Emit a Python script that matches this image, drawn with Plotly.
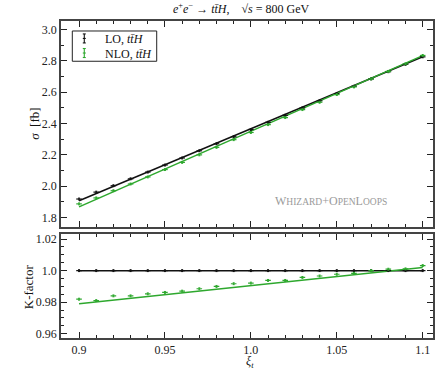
import plotly.graph_objects as go

# scan points in xi_t
xi = [0.90, 0.91, 0.92, 0.93, 0.94, 0.95, 0.96, 0.97, 0.98, 0.99, 1.00,
      1.01, 1.02, 1.03, 1.04, 1.05, 1.06, 1.07, 1.08, 1.09, 1.10]

sigma_lo = [1.918, 1.962, 2.003, 2.047, 2.090, 2.135, 2.180, 2.226, 2.271, 2.316, 2.362,
            2.408, 2.453, 2.500, 2.545, 2.591, 2.638, 2.685, 2.731, 2.778, 2.826]
sigma_nlo = [1.887, 1.925, 1.971, 2.014, 2.059, 2.106, 2.152, 2.200, 2.248, 2.297, 2.343,
             2.393, 2.438, 2.489, 2.536, 2.585, 2.634, 2.685, 2.733, 2.781, 2.835]
k_lo = [1.0] * 21
k_nlo = [0.9819, 0.9810, 0.9840, 0.9840, 0.9853, 0.9862, 0.9870, 0.9885, 0.9900, 0.9917, 0.9921,
         0.9938, 0.9938, 0.9957, 0.9966, 0.9977, 0.9983, 1.0000, 1.0009, 1.0011, 1.0032]
err_sigma = 0.006
err_k = 0.0006

# linear fits (end points)
fit_x = [0.9, 1.1]
fit_lo = [1.907, 2.827]
fit_nlo = [1.868, 2.834]
fit_k_lo = [1.0, 1.0]
fit_k_nlo = [0.979, 1.0020]

xtick_vals = [0.9, 0.95, 1.0, 1.05, 1.1]
xtick_text = ["0.9", "0.95", "1.0", "1.05", "1.1"]
ytick_top = [1.8, 2.0, 2.2, 2.4, 2.6, 2.8, 3.0]
ytick_bot = [0.96, 0.98, 1.0, 1.02]
ytick_bot_text = ["0.96", "0.98", "1.0", "1.02"]

legend_names = ["LO, <i>tt̄H</i>", "NLO, <i>tt̄H</i>"]

BLACK = "#111111"
GREEN = "#2ea82e"
FONT = "Liberation Serif"

fig = go.Figure()


def points(x, y, err, color, xa, ya):
    return go.Scatter(
        x=x, y=y, mode="markers", xaxis=xa, yaxis=ya, showlegend=False,
        marker=dict(symbol="line-ew", size=4, color=color, line=dict(color=color, width=1.2)),
        error_y=dict(type="constant", value=err, color=color, thickness=1, width=1),
        hoverinfo="skip",
    )


def fitline(x, y, color, xa, ya):
    return go.Scatter(x=x, y=y, mode="lines", xaxis=xa, yaxis=ya, showlegend=False,
                      line=dict(color=color, width=1.5), hoverinfo="skip")


fig.add_trace(fitline(fit_x, fit_lo, BLACK, "x2", "y2"))
fig.add_trace(fitline(fit_x, fit_nlo, GREEN, "x2", "y2"))
fig.add_trace(points(xi, sigma_lo, err_sigma, BLACK, "x2", "y2"))
fig.add_trace(points(xi, sigma_nlo, err_sigma, GREEN, "x2", "y2"))

fig.add_trace(fitline(fit_x, fit_k_lo, BLACK, "x", "y"))
fig.add_trace(fitline(fit_x, fit_k_nlo, GREEN, "x", "y"))
fig.add_trace(points(xi, k_lo, err_k, BLACK, "x", "y"))
fig.add_trace(points(xi, k_nlo, err_k, GREEN, "x", "y"))

axis_common = dict(
    showline=True, linecolor="#444444", linewidth=1.5, mirror="allticks",
    ticks="inside", ticklen=6, tickwidth=1, tickcolor="#222222",
    showgrid=False, zeroline=False, automargin=False,
    tickfont=dict(family=FONT, size=12, color="#222222"),
)

fig.update_layout(
    width=445, height=371,
    margin=dict(l=61, r=12, t=21, b=33, autoexpand=False),
    paper_bgcolor="white", plot_bgcolor="white",
    font=dict(family=FONT, size=12, color="#111111"),
    showlegend=False,
    xaxis=dict(
        **axis_common, range=[0.8895, 1.106], anchor="y",
        tickvals=xtick_vals, ticktext=xtick_text,
        minor=dict(dtick=0.01, tick0=0.9, ticks="inside", ticklen=3, tickcolor="#222222"),
    ),
    xaxis2=dict(
        **axis_common, range=[0.8895, 1.106], anchor="y2", matches="x",
        tickvals=xtick_vals, showticklabels=False,
        minor=dict(dtick=0.01, tick0=0.9, ticks="inside", ticklen=3, tickcolor="#222222"),
    ),
    yaxis=dict(
        **axis_common, domain=[0, 0.3265], range=[0.9573, 1.0229], anchor="x",
        tickvals=ytick_bot, ticktext=ytick_bot_text,
        minor=dict(dtick=0.005, tick0=0.96, ticks="inside", ticklen=3, tickcolor="#222222"),
    ),
    yaxis2=dict(
        **axis_common, domain=[0.35, 1], range=[1.739, 3.055], anchor="x2",
        tickvals=ytick_top, tickformat=".1f",
        minor=dict(dtick=0.1, tick0=1.8, ticks="inside", ticklen=3, tickcolor="#222222"),
    ),
)

# axis titles
fig.add_annotation(x=-0.073, y=0.675, xref="paper", yref="paper", xanchor="center", yanchor="middle",
                   showarrow=False, textangle=-90,
                   text="<i>σ</i>  [fb]", font=dict(family=FONT, size=13))
fig.add_annotation(x=-0.089, y=0.163, xref="paper", yref="paper", xanchor="center", yanchor="middle",
                   showarrow=False, textangle=-90,
                   text="K-factor", font=dict(family=FONT, size=13))
fig.add_annotation(x=0.508, y=-0.075, xref="paper", yref="paper", xanchor="center", yanchor="middle",
                   showarrow=False,
                   text="<i>ξ<sub>t</sub></i>", font=dict(family=FONT, size=12))

# title
fig.add_annotation(
    x=0.484, y=1.0, xref="paper", yref="paper", xanchor="center", yanchor="bottom", yshift=3,
    showarrow=False,
    text="<i>e</i><sup>+</sup><i>e</i><sup>−</sup> → <i>tt̄H</i>,    √<i>s</i> = 800 GeV",
    font=dict(family=FONT, size=12, color="#111111"),
)

fig.add_annotation(
    x=0.725, y=0.433, xref="paper", yref="paper", xanchor="center", yanchor="middle", showarrow=False,
    text="W<span style='font-size:9.5px'>HIZARD</span>+O<span style='font-size:9.5px'>PEN</span>"
         "L<span style='font-size:9.5px'>OOPS</span>",
    font=dict(family=FONT, size=12, color="#9a9a9a"),
)

# legend box drawn by hand (compact spacing like the original)
fig.add_shape(type="rect", xref="paper", yref="paper", x0=0.0304, x1=0.2573, y0=0.873, y1=0.9685,
              line=dict(color="#222222", width=1), fillcolor="white", layer="above")
gx, half, cap = 0.0626, 0.0142, 0.004
for name, color, yc in zip(legend_names, [BLACK, GREEN], [0.945, 0.899]):
    for seg in [(gx, yc - half, gx, yc + half),
                (gx - cap, yc - half, gx + cap, yc - half),
                (gx - cap, yc + half, gx + cap, yc + half),
                (gx - cap, yc, gx + cap, yc)]:
        fig.add_shape(type="line", xref="paper", yref="paper", x0=seg[0], y0=seg[1], x1=seg[2], y1=seg[3],
                      line=dict(color=color, width=1.1), layer="above")
    fig.add_annotation(x=0.112, y=yc - 0.003, xref="paper", yref="paper", xanchor="left", yanchor="middle",
                       showarrow=False, text=name, font=dict(family=FONT, size=12, color="#111111"))

# the page's default body margin would shift the figure by 8 px
fig.write_html("out.html", config={"displayModeBar": False},
               post_script="document.body.style.margin='0';")
